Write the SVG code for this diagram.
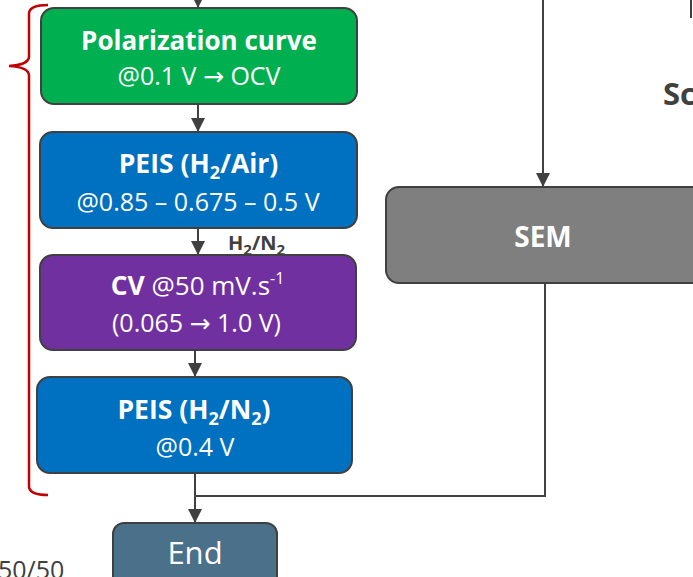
<svg xmlns="http://www.w3.org/2000/svg" width="693" height="577" viewBox="0 0 693 577">
<style>
.box{stroke:#404040;stroke-width:2}
.t{font-family:"Open Sans","Liberation Sans",sans-serif;fill:#fff;text-anchor:middle}
.b{font-weight:bold;font-size:26.5px}
.r{font-size:25px}
.ar{font-family:"DejaVu Sans",sans-serif}
.conn{stroke:#404040;stroke-width:2;fill:none}
.lbl{font-family:"Open Sans","Liberation Sans",sans-serif;fill:#404040;font-weight:bold}
</style>
<defs>
<marker id="ah" markerUnits="userSpaceOnUse" markerWidth="14" markerHeight="14" refX="14" refY="7" orient="auto" viewBox="0 0 14 14">
<path d="M0,0 L14,7 L0,14 z" fill="#404040"/>
</marker>
</defs>
<rect width="693" height="577" fill="#fff"/>
<g id="connectors">
<line class="conn" x1="198" y1="-10" x2="198" y2="8" marker-end="url(#ah)"/>
<line class="conn" x1="198" y1="104" x2="198" y2="132" marker-end="url(#ah)"/>
<line class="conn" x1="198" y1="228" x2="198" y2="255" marker-end="url(#ah)"/>
<line class="conn" x1="195" y1="350" x2="195" y2="377" marker-end="url(#ah)"/>
<line class="conn" x1="195" y1="473" x2="195" y2="523" marker-end="url(#ah)"/>
<line class="conn" x1="543" y1="-5" x2="543" y2="187" marker-end="url(#ah)"/>
<polyline class="conn" points="545,283 545,496 195,496"/>
<text class="lbl" x="228" y="250" font-size="20">H<tspan font-size="15" dy="5">2</tspan><tspan dy="-5">/N</tspan><tspan font-size="15" dy="5">2</tspan></text>
</g>
<g id="bracket">
<path d="M48,5 Q30,5 29,13 L29,57 Q28,65 9,66 Q28,67 29,75 L29,487 Q30,495 48,495" fill="none" stroke="#C00000" stroke-width="2.5"/>
</g>
<g id="polarization">
<rect class="box" x="41" y="8" width="316" height="96" rx="13" fill="#00B050"/>
<text class="t b" x="199" y="49.5" style="font-size:26px">Polarization curve</text>
<text class="t r" x="199" y="85">@0.1 V <tspan class="ar">→</tspan> OCV</text>
</g>
<g id="peis-air">
<rect class="box" x="40" y="132" width="317" height="96" rx="13" fill="#0070C0"/>
<text class="t b" x="198.5" y="173">PEIS (H<tspan font-size="18" dy="6">2</tspan><tspan dy="-6">/Air)</tspan></text>
<text class="t r" x="198" y="211">@0.85 – 0.675 – 0.5 V</text>
</g>
<g id="cv">
<rect class="box" x="40" y="255" width="316" height="95" rx="13" fill="#7030A0"/>
<text class="t" x="197.5" y="295" font-size="26"><tspan class="b">CV</tspan> @50 mV.s<tspan font-size="16" dy="-11">-1</tspan></text>
<text class="t r" x="196.5" y="331.5">(0.065 <tspan class="ar">→</tspan> 1.0 V)</text>
</g>
<g id="peis-n2">
<rect class="box" x="37" y="377" width="315" height="96" rx="13" fill="#0070C0"/>
<text class="t b" x="194" y="419">PEIS (H<tspan font-size="18" dy="6">2</tspan><tspan dy="-6">/N</tspan><tspan font-size="18" dy="6">2</tspan><tspan dy="-6">)</tspan></text>
<text class="t r" x="195" y="456">@0.4 V</text>
</g>
<g id="end">
<rect class="box" x="113" y="523" width="164" height="70" rx="11" fill="#4B7089"/>
<text class="t" x="195" y="564" font-size="31">End</text>
</g>
<g id="sem">
<rect class="box" x="386" y="187" width="320" height="96" rx="13" fill="#7F7F7F"/>
<text class="t" x="543" y="247" font-size="28" font-weight="bold">SEM</text>
</g>
<g id="extras">
<text class="lbl" x="663" y="105" font-size="31">Sc</text>
<line x1="691" y1="0" x2="691" y2="18" stroke="#404040" stroke-width="2"/>
<text x="-2" y="579" font-family="'Open Sans','Liberation Sans',sans-serif" font-size="25" fill="#404040">50/50</text>
</g>
</svg>
